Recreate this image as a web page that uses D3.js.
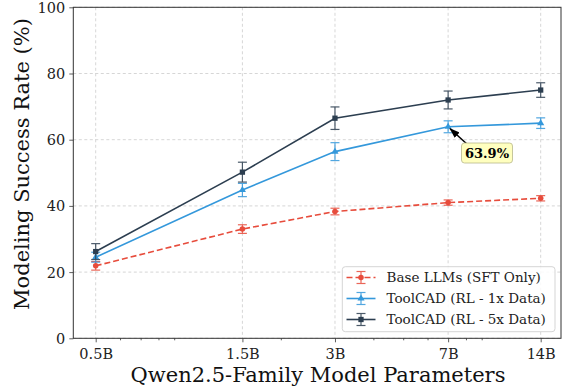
<!DOCTYPE html>
<html><head><meta charset="utf-8">
<script src="https://cdn.jsdelivr.net/npm/d3@7"></script>
<style>body{margin:0;background:#fff}svg{display:block}svg text{font-family:"DejaVu Serif","Liberation Serif",serif !important}</style>
</head><body><svg id="c" width="568" height="388" font-family="DejaVu Serif"></svg>
<script>
const params = [0.5, 1.5, 3, 7, 14];
const tickLabels = ["0.5B", "1.5B", "3B", "7B", "14B"];
const baseVals = [21.9, 33.0, 38.3, 41.0, 42.3];
const baseErr = [1.3, 1.3, 1.0, 0.8, 0.8];
const x1Vals = [24.5, 44.8, 56.4, 63.9, 65.0];
const x1Err = [1.5, 2.0, 2.7, 1.8, 1.6];
const x5Vals = [26.2, 50.2, 66.5, 72.0, 75.0];
const x5Err = [2.4, 3.0, 3.4, 2.7, 2.2];
const seriesNames = ["Base LLMs (SFT Only)", "ToolCAD (RL - 1x Data)", "ToolCAD (RL - 5x Data)"];
const yTicks = [0, 20, 40, 60, 80, 100];
const minorTicks = [0.6, 0.7, 0.8, 0.9, 2, 4, 5, 6, 8, 9];

const FONT = "DejaVu Serif";
const series = [
  {name: seriesNames[0], vals: baseVals, err: baseErr, color: "#e74c3c", dash: "6,3", marker: "circle"},
  {name: seriesNames[1], vals: x1Vals, err: x1Err, color: "#3498db", dash: null, marker: "triangle"},
  {name: seriesNames[2], vals: x5Vals, err: x5Err, color: "#2c3e50", dash: null, marker: "square"}
];

const L = 73.3, R = 561, T = 7.3, B = 338.3;
const svg = d3.select("#c");
const x = d3.scaleLog().domain([0.4228, 16.3]).range([L, R]);
const y = d3.scaleLinear().domain([0, 100]).range([B, T]);

// grid
const g = svg.append("g");
g.selectAll(".gy").data(yTicks).enter().append("line")
  .attr("x1", L).attr("x2", R).attr("y1", d => y(d)).attr("y2", d => y(d))
  .attr("stroke", "#cccccc").attr("stroke-width", 0.8).attr("stroke-dasharray", "3,2.5");
g.selectAll(".gx").data(params).enter().append("line")
  .attr("y1", T).attr("y2", B).attr("x1", d => x(d)).attr("x2", d => x(d))
  .attr("stroke", "#cccccc").attr("stroke-width", 0.8).attr("stroke-dasharray", "3,2.5");

// axes
const xAxis = d3.axisBottom(x).tickValues(params).tickFormat((d, i) => tickLabels[i]).tickSize(4).tickPadding(4);
const xa = svg.append("g").attr("transform", `translate(0,${B})`).call(xAxis);
const xMinor = d3.axisBottom(x).tickValues(minorTicks).tickFormat("").tickSize(2);
const xm = svg.append("g").attr("transform", `translate(0,${B})`).call(xMinor);
xm.select(".domain").remove();
const yAxis = d3.axisLeft(y).tickValues(yTicks).tickSize(4).tickPadding(4);
const ya = svg.append("g").attr("transform", `translate(${L},0)`).call(yAxis);
[xa, ya, xm].forEach(a => {
  a.attr("font-family", FONT).attr("font-size", 14.5);
  a.selectAll("text").attr("fill", "#222").attr("font-family", FONT);
  a.selectAll("line").attr("stroke", "#333").attr("stroke-width", 0.8);
  a.select(".domain").remove();
});
xa.selectAll("text").attr("dy", "0.85em");
ya.selectAll("text").attr("dy", "0.35em");

// series
series.forEach(s => {
  const pts = params.map((p, i) => ({p, v: s.vals[i], e: s.err[i]}));
  const line = d3.line().x(d => x(d.p)).y(d => y(d.v));
  svg.append("path").datum(pts).attr("d", line).attr("fill", "none")
    .attr("stroke", s.color).attr("stroke-width", 1.6)
    .attr("stroke-dasharray", s.dash);
  const eb = svg.append("g").attr("stroke", s.color).attr("stroke-width", 1.2).attr("opacity", 0.85);
  pts.forEach(d => {
    eb.append("line").attr("x1", x(d.p)).attr("x2", x(d.p)).attr("y1", y(d.v - d.e)).attr("y2", y(d.v + d.e));
    [d.v - d.e, d.v + d.e].forEach(v => eb.append("line").attr("x1", x(d.p) - 4.5).attr("x2", x(d.p) + 4.5).attr("y1", y(v)).attr("y2", y(v)));
  });
  const sym = s.marker === "circle" ? d3.symbolCircle : s.marker === "triangle" ? d3.symbolTriangle : d3.symbolSquare;
  const size = s.marker === "circle" ? 24 : s.marker === "triangle" ? 22 : 28;
  svg.append("g").selectAll("path").data(pts).enter().append("path")
    .attr("d", d3.symbol().type(sym).size(size))
    .attr("transform", d => `translate(${x(d.p)},${y(d.v)})`)
    .attr("fill", s.color);
});

// spines
svg.append("rect").attr("x", L).attr("y", T).attr("width", R - L).attr("height", B - T)
  .attr("fill", "none").attr("stroke", "#333").attr("stroke-width", 1);

// annotation
const ax = x(params[3]), ay = y(x1Vals[3]);
svg.append("defs").append("marker").attr("id", "ah").attr("viewBox", "0 0 10 10")
  .attr("refX", 9).attr("refY", 5).attr("markerWidth", 7).attr("markerHeight", 7).attr("orient", "auto-start-reverse")
  .append("path").attr("d", "M0,1.5 L10,5 L0,8.5 Z").attr("fill", "#000");
svg.append("line").attr("x1", 468).attr("x2", ax + 2).attr("y1", 145).attr("y2", ay + 2)
  .attr("stroke", "#000").attr("stroke-width", 1.5).attr("marker-end", "url(#ah)");
svg.append("rect").attr("x", 461.5).attr("y", 143).attr("width", 51).attr("height", 20).attr("rx", 3)
  .attr("fill", "#ffffbf").attr("stroke", "#b8b88a").attr("stroke-width", 0.8);
svg.append("text").attr("x", 487).attr("y", 153.5).attr("dy", "0.35em").attr("text-anchor", "middle")
  .attr("font-family", FONT).attr("font-size", 13).attr("font-weight", "bold").attr("fill", "#000").text(x1Vals[3].toFixed(1) + "%");

// legend
const lg = svg.append("g");
lg.append("rect").attr("x", 342.3).attr("y", 266.7).attr("width", 212.7).attr("height", 65)
  .attr("rx", 3).attr("fill", "#fff").attr("fill-opacity", 0.85).attr("stroke", "#d5d5d5").attr("stroke-width", 1);
const rowsY = [277.5, 298.5, 319.5];
series.forEach((s, i) => {
  const yy = rowsY[i], cx = 361;
  lg.append("line").attr("x1", 346.5).attr("x2", 375.5).attr("y1", yy).attr("y2", yy)
    .attr("stroke", s.color).attr("stroke-width", 1.6).attr("stroke-dasharray", s.dash);
  const e = lg.append("g").attr("stroke", s.color).attr("stroke-width", 1.2).attr("opacity", 0.85);
  e.append("line").attr("x1", cx).attr("x2", cx).attr("y1", yy - 6).attr("y2", yy + 6);
  [yy - 6, yy + 6].forEach(v => e.append("line").attr("x1", cx - 4.5).attr("x2", cx + 4.5).attr("y1", v).attr("y2", v));
  const sym = s.marker === "circle" ? d3.symbolCircle : s.marker === "triangle" ? d3.symbolTriangle : d3.symbolSquare;
  lg.append("path").attr("d", d3.symbol().type(sym).size(s.marker === "circle" ? 24 : s.marker === "triangle" ? 22 : 28))
    .attr("transform", `translate(${cx},${yy})`).attr("fill", s.color);
  lg.append("text").attr("x", 386.5).attr("y", yy).attr("dy", "0.35em").attr("font-size", 13.5)
    .attr("font-family", FONT).attr("fill", "#222").text(s.name);
});

// axis labels
svg.append("text").attr("x", 318).attr("y", 382).attr("text-anchor", "middle")
  .attr("font-family", FONT).attr("font-size", 21).attr("fill", "#111").text("Qwen2.5-Family Model Parameters");
svg.append("text").attr("transform", `translate(29,${164}) rotate(-90)`).attr("text-anchor", "middle")
  .attr("font-family", FONT).attr("font-size", 21).attr("fill", "#111").text("Modeling Success Rate (%)");
</script></body></html>
